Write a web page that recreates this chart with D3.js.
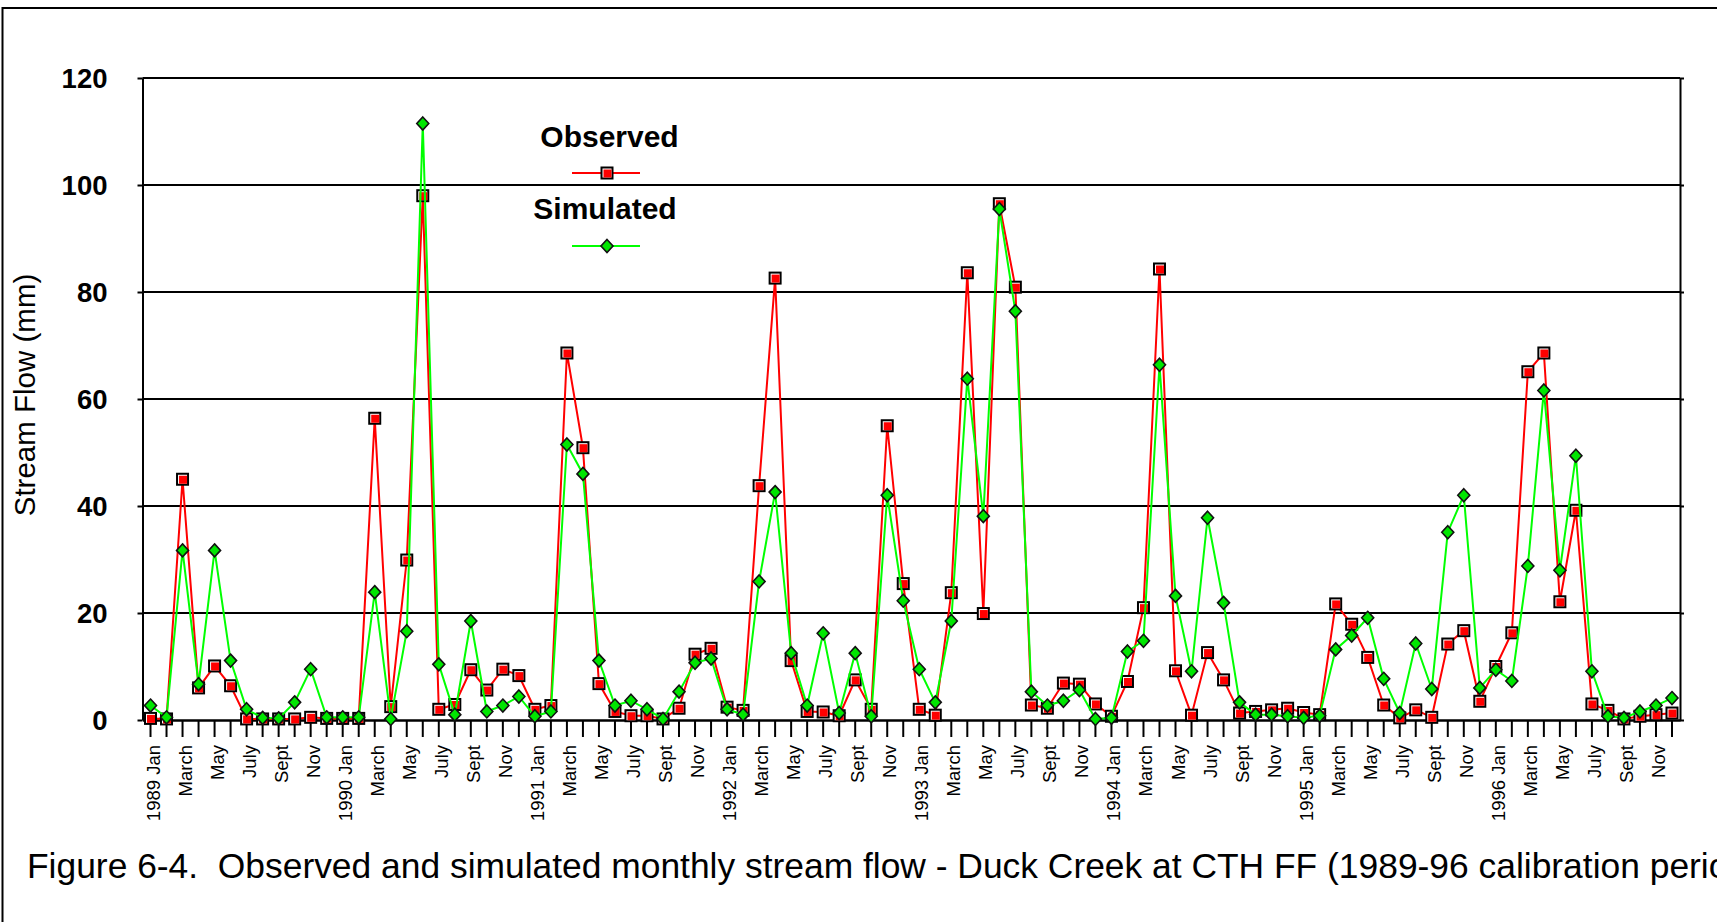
<!DOCTYPE html>
<html>
<head>
<meta charset="utf-8">
<script src="https://cdn.jsdelivr.net/npm/d3@7"></script>
<style>
  html, body { margin: 0; padding: 0; background: #fff; overflow: hidden; }
  svg { display: block; font-family: "Liberation Sans", Arial, Helvetica, sans-serif; }
  .caption { white-space: pre; }
</style>
</head>
<body>
<svg id="chart" width="1717" height="922"></svg>
<script>
// Monthly stream flow, Duck Creek at CTH FF, 1989-1996 (mm)
const years = [1989, 1990, 1991, 1992, 1993, 1994, 1995, 1996];
const monthNames = ["Jan", "Feb", "March", "April", "May", "June",
                    "July", "Aug", "Sept", "Oct", "Nov", "Dec"];

const observed = [
  0.3, 0.2, 45.0, 6.0, 10.1, 6.4, 0.2, 0.2, 0.2, 0.2, 0.5, 0.3,      // 1989
  0.3, 0.3, 56.4, 2.5, 29.9, 98.0, 2.0, 2.9, 9.4, 5.6, 9.5, 8.3,     // 1990
  2.0, 2.7, 68.6, 50.9, 6.8, 1.6, 0.8, 0.8, 0.2, 2.2, 12.3, 13.4,    // 1991
  2.4, 1.8, 43.8, 82.6, 11.1, 1.6, 1.5, 0.8, 7.5, 2.0, 55.0, 25.5,   // 1992
  2.0, 0.9, 23.8, 83.6, 19.9, 96.5, 80.9, 2.8, 2.2, 6.9, 6.7, 3.0,   // 1993
  0.7, 7.2, 21.0, 84.3, 9.2, 0.9, 12.6, 7.5, 1.3, 1.6, 1.9, 2.2,     // 1994
  1.4, 1.0, 21.7, 17.9, 11.7, 2.8, 0.4, 1.9, 0.5, 14.2, 16.7, 3.5,   // 1995
  10.0, 16.3, 65.1, 68.6, 22.1, 39.2, 3.0, 1.8, 0.2, 0.7, 1.0, 1.3   // 1996
];

const simulated = [
  2.7, 0.5, 31.7, 6.7, 31.7, 11.1, 2.0, 0.4, 0.3, 3.3, 9.5, 0.5,
  0.5, 0.5, 23.9, 0.2, 16.6, 111.5, 10.4, 1.0, 18.5, 1.6, 2.7, 4.4,
  0.7, 1.6, 51.5, 46.0, 11.1, 2.7, 3.6, 2.0, 0.2, 5.3, 10.7, 11.5,
  2.0, 1.0, 25.9, 42.6, 12.5, 2.7, 16.2, 1.3, 12.5, 0.7, 42.0, 22.3,
  9.5, 3.3, 18.5, 63.8, 38.1, 95.5, 76.4, 5.3, 2.7, 3.6, 5.6, 0.2,
  0.4, 12.8, 14.8, 66.4, 23.2, 9.1, 37.8, 21.9, 3.3, 1.0, 1.0, 0.7,
  0.4, 0.8, 13.2, 15.8, 19.1, 7.7, 1.3, 14.3, 5.8, 35.1, 42.0, 6.0,
  9.4, 7.3, 28.8, 61.6, 28.0, 49.4, 9.1, 0.7, 0.4, 1.6, 2.7, 4.1
];

const yTicks = [0, 20, 40, 60, 80, 100, 120];
const seriesNames = ["Observed", "Simulated"];
const captionText = "Figure 6-4.  Observed and simulated monthly stream flow - Duck Creek at CTH FF (1989-96 calibration period)";
const yTitle = "Stream Flow (mm)";

// one category per month
const categories = years.flatMap(yr => monthNames.map((m, i) => ({ key: `${yr}-${i}`, year: yr, month: i })));

const svg = d3.select("#chart");
const W = 1717, H = 922;
const plot = { left: 142.5, right: 1680, top: 78, bottom: 720 };

svg.append("rect").attr("width", W).attr("height", H).attr("fill", "#fff");

// outer frame (runs off the right and bottom edges)
svg.append("path")
  .attr("d", `M2.5,${H + 5} L2.5,8 L${W + 5},8`)
  .attr("fill", "none").attr("stroke", "#000").attr("stroke-width", 2);

const x = d3.scaleBand()
  .domain(categories.map(c => c.key))
  .range([plot.left, plot.right])
  .padding(0);
const cx = k => x(k) + x.bandwidth() / 2;

const y = d3.scaleLinear().domain([0, 120]).range([plot.bottom, plot.top]);

// horizontal gridlines
svg.append("g")
  .selectAll("line")
  .data(yTicks.filter(v => v > 0 && v < 120))
  .join("line")
  .attr("x1", plot.left).attr("x2", plot.right)
  .attr("y1", d => y(d)).attr("y2", d => y(d))
  .attr("stroke", "#000").attr("stroke-width", 2);

// top border
svg.append("line")
  .attr("x1", plot.left).attr("x2", plot.right)
  .attr("y1", y(120)).attr("y2", y(120))
  .attr("stroke", "#000").attr("stroke-width", 2);

// left axis with bold labels
const yAxis = svg.append("g")
  .attr("transform", `translate(${plot.left},0)`)
  .call(d3.axisLeft(y).tickValues(yTicks).tickSize(5).tickSizeOuter(0).tickPadding(30));
yAxis.select(".domain").attr("stroke", "#000").attr("stroke-width", 2);
yAxis.selectAll(".tick line").attr("stroke", "#000").attr("stroke-width", 2);
yAxis.selectAll(".tick text")
  .attr("fill", "#000")
  .style("font-size", "27.5px").style("font-weight", "bold")
  .attr("dy", "0.35em");

// right axis, ticks only
const yAxisR = svg.append("g")
  .attr("transform", `translate(${plot.right},0)`)
  .call(d3.axisRight(y).tickValues(yTicks).tickSize(4).tickSizeOuter(0).tickFormat(""));
yAxisR.select(".domain").attr("stroke", "#000").attr("stroke-width", 2);
yAxisR.selectAll(".tick line").attr("stroke", "#000").attr("stroke-width", 2);

// bottom axis: every month ticked, every other month labelled
const fmt = key => {
  const c = categories.find(d => d.key === key);
  if (c.month % 2 === 1) return "";
  return c.month === 0 ? `${c.year} ${monthNames[0]}` : monthNames[c.month];
};
const xAxis = svg.append("g")
  .attr("transform", `translate(0,${plot.bottom})`)
  .call(d3.axisBottom(x).tickSize(17).tickSizeOuter(0).tickFormat(fmt));
xAxis.select(".domain").attr("stroke", "#000").attr("stroke-width", 2.5);
xAxis.selectAll(".tick line").attr("stroke", "#000").attr("stroke-width", 2);
xAxis.selectAll(".tick text")
  .attr("transform", "rotate(-90)")
  .attr("x", -25).attr("y", 9).attr("dy", 0)
  .attr("fill", "#000")
  .style("text-anchor", "end")
  .style("font-size", "18.5px");

// y axis title
svg.append("text")
  .attr("transform", "translate(35,395) rotate(-90)")
  .attr("text-anchor", "middle")
  .style("font-size", "29.5px")
  .attr("fill", "#000")
  .text(yTitle);

// series lines
const line = d3.line()
  .x((d, i) => cx(categories[i].key))
  .y(d => y(d));

svg.append("path").datum(observed)
  .attr("d", line).attr("fill", "none")
  .attr("stroke", "#ff0000").attr("stroke-width", 2);

const diamond = "M0,-6.5 L6,0 L0,6.5 L-6,0 Z";
function squareMarker(g) {
  g.append("rect").attr("x", -5.5).attr("y", -5.5).attr("width", 11).attr("height", 11)
    .attr("fill", "#fff").attr("stroke", "#000").attr("stroke-width", 2);
  g.append("rect").attr("x", -3.5).attr("y", -3.5).attr("width", 8).attr("height", 8)
    .attr("fill", "#ff0000");
}

svg.append("g").selectAll("g")
  .data(observed)
  .join("g")
  .attr("transform", (d, i) => `translate(${cx(categories[i].key)},${y(d)})`)
  .each(function () { squareMarker(d3.select(this)); });

svg.append("path").datum(simulated)
  .attr("d", line).attr("fill", "none")
  .attr("stroke", "#00ff00").attr("stroke-width", 2);

svg.append("g").selectAll("path")
  .data(simulated)
  .join("path")
  .attr("d", diamond)
  .attr("transform", (d, i) => `translate(${cx(categories[i].key)},${y(d)})`)
  .attr("fill", "#00e600").attr("stroke", "#111").attr("stroke-width", 1.6);

// legend
const legend = svg.append("g");
const legendRows = [
  { name: seriesNames[0], tx: 609.5, ty: 147, ly: 173, color: "#ff0000", marker: "square" },
  { name: seriesNames[1], tx: 605, ty: 219, ly: 246, color: "#00ff00", marker: "diamond" }
];
legendRows.forEach(r => {
  legend.append("text")
    .attr("x", r.tx).attr("y", r.ty)
    .attr("text-anchor", "middle")
    .style("font-size", "30px").style("font-weight", "bold")
    .attr("fill", "#000")
    .text(r.name);
  legend.append("line")
    .attr("x1", 572).attr("x2", 640).attr("y1", r.ly).attr("y2", r.ly)
    .attr("stroke", r.color).attr("stroke-width", 2);
  const m = legend.append("g").attr("transform", `translate(607,${r.ly})`);
  if (r.marker === "square") squareMarker(m);
  else m.append("path").attr("d", diamond)
    .attr("fill", "#00e600").attr("stroke", "#111").attr("stroke-width", 1.6);
});

// caption
svg.append("text")
  .attr("class", "caption")
  .attr("x", 27).attr("y", 878)
  .style("font-size", "35.4px")
  .attr("fill", "#000")
  .text(captionText);
</script>
</body>
</html>
